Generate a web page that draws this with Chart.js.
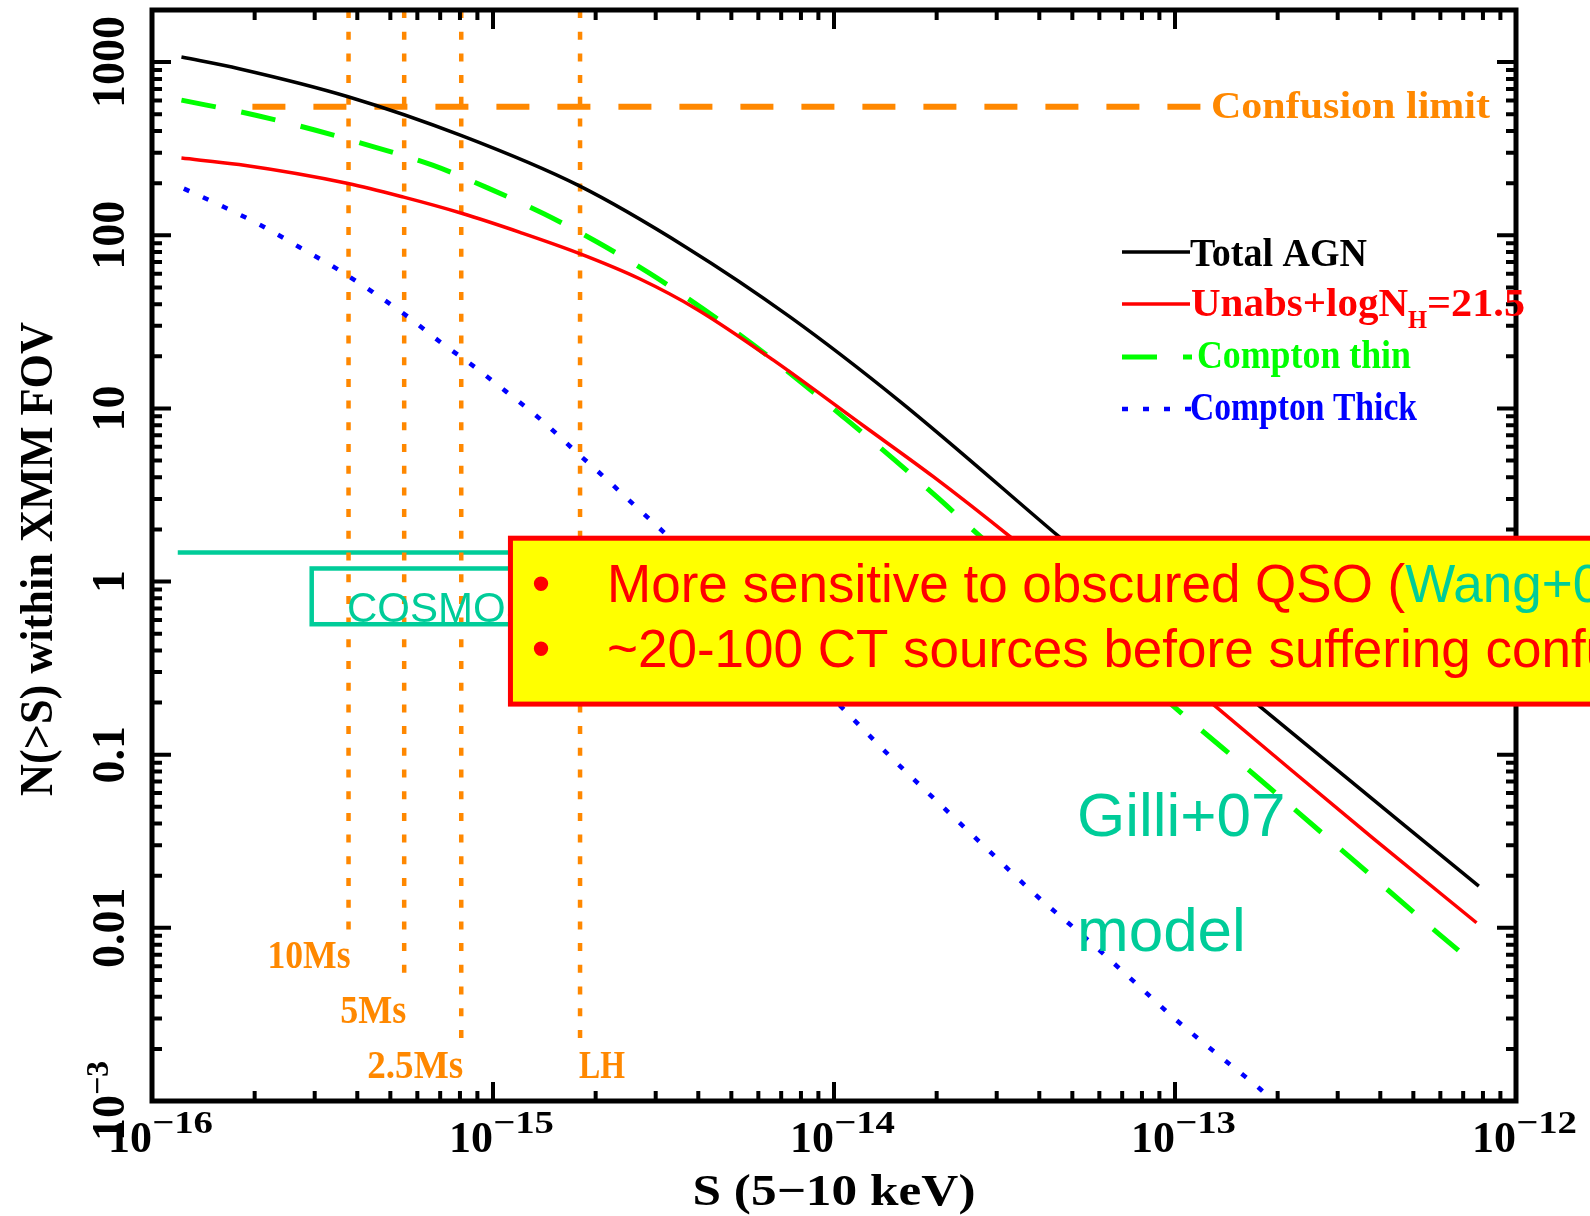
<!DOCTYPE html>
<html>
<head>
<meta charset="utf-8">
<script src="https://cdn.jsdelivr.net/npm/chart.js@4.4.1/dist/chart.umd.min.js"></script>
<style>
  body { margin: 0; background: #fff; }
  #wrap { width: 1590px; height: 1216px; overflow: hidden; }
</style>
</head>
<body>
<div id="wrap"><canvas id="lognChart" width="1590" height="1216"></canvas></div>
<script>
// flux S (5-10 keV, cgs) and N(>S)
var totalS = [1.22e-16, 1.80e-16, 3.76e-16, 8.09e-16, 1.78e-15, 3.69e-15, 7.41e-15, 1.55e-14, 4.58e-14, 1.78e-13, 7.78e-13];
var totalN = [1070, 916, 631, 376, 194, 85.1, 33.9, 11.1, 1.81, 0.189, 0.0174];

var unabsS = [1.22e-16, 1.80e-16, 3.76e-16, 5.47e-16, 8.09e-16, 1.20e-15, 1.78e-15, 2.69e-15, 3.98e-15, 6.64e-15, 1.22e-14, 1.96e-14, 3.29e-14, 6.31e-14, 1.32e-13, 2.14e-13, 3.82e-13, 7.66e-13];
var unabsN = [279, 256, 199, 166, 134, 104, 78.9, 56.1, 37.2, 19.0, 7.94, 4.02, 1.81, 0.627, 0.189, 0.0849, 0.0328, 0.0107];

var thinS = [1.22e-16, 2.03e-16, 3.02e-16, 4.50e-16, 6.65e-16, 9.75e-16, 1.41e-15, 2.02e-15, 2.89e-15, 4.12e-15, 5.73e-15, 7.89e-15, 1.08e-14, 1.49e-14, 2.03e-14, 2.60e-14, 5.01e-14, 1.02e-13, 1.76e-13, 3.29e-13, 5.90e-13, 6.78e-13];
var thinN = [603, 492, 404, 323, 254, 186, 133, 91.4, 60.0, 37.7, 23.7, 14.5, 8.73, 5.13, 3.01, 1.93, 0.621, 0.181, 0.0729, 0.0252, 0.00933, 0.00741];

var thickS = [1.24e-16, 1.62e-16, 2.09e-16, 2.70e-16, 3.44e-16, 4.44e-16, 5.61e-16, 7.00e-16, 8.85e-16, 1.11e-15, 1.39e-15, 1.71e-15, 2.14e-15, 2.63e-15, 3.24e-15, 6.31e-15, 1.11e-14, 1.50e-14, 2.06e-14, 2.82e-14, 3.86e-14, 5.35e-14, 7.40e-14, 1.01e-13, 1.42e-13, 1.77e-13, 2.00e-13];
var thickN = [186, 146, 114, 85.5, 65.0, 47.0, 34.0, 24.2, 17.3, 12.2, 8.53, 5.86, 3.94, 2.70, 1.85, 0.537, 0.169, 0.0929, 0.0511, 0.0284, 0.0158, 0.00908, 0.00511, 0.00293, 0.00168, 0.00118, 0.00095];

// confusion limit and survey depths
var confusionN = 552;
var confusionS = [1.97e-16, 1.23e-13];
var depthNames = ['10Ms', '5Ms', '2.5Ms', 'LH'];
var depthS = [3.77e-16, 5.49e-16, 8.07e-16, 1.80e-15];
var depthLowN = [0.0095, 0.0052, 0.00225, 0.00225];

// COSMOS level
var cosmosN = 1.47;
var cosmosS = [1.19e-16, 3.0e-15];

// axes
var xTickExp = [-16, -15, -14, -13, -12];
var yTickValues = [0.001, 0.01, 0.1, 1, 10, 100, 1000];
var yTickLabels = ['10', '0.01', '0.1', '1', '10', '100', '1000'];

var ORANGE = '#FF8800';
var TEAL = '#00CC99';
var SERIF = '"Liberation Serif", "DejaVu Serif", serif';
var SANS = '"Liberation Sans", Arial, sans-serif';

function pairs(xs, ys) {
    return xs.map(function(x, i) { return {x: x, y: ys[i]}; });
}

function fitText(ctx, txt, x, y, size, family, width, align) {
    ctx.font = size + 'px ' + family;
    var s = width / ctx.measureText(txt).width;
    ctx.save();
    ctx.translate(x, y);
    ctx.scale(s, 1);
    ctx.textAlign = align || 'left';
    ctx.textBaseline = 'alphabetic';
    ctx.fillText(txt, 0, 0);
    ctx.restore();
}

var datasets = [];
datasets.push({ label: 'Total AGN', data: pairs(totalS, totalN), borderColor: '#000', borderWidth: 3.5, order: 1, cubicInterpolationMode: 'monotone' });
datasets.push({ label: 'Unabs', data: pairs(unabsS, unabsN), borderColor: '#FF0000', borderWidth: 3.5, order: 2, cubicInterpolationMode: 'monotone' });
datasets.push({ label: 'Compton thin', data: pairs(thinS, thinN), borderColor: '#00FF00', borderWidth: 5, borderDash: [35, 26], order: 3, cubicInterpolationMode: 'monotone' });
datasets.push({ label: 'Compton Thick', data: pairs(thickS, thickN), borderColor: '#0000FF', borderWidth: 4.5, borderDash: [6, 15], order: 4, cubicInterpolationMode: 'monotone' });
datasets.push({ label: 'Confusion', data: [{x: confusionS[0], y: confusionN}, {x: confusionS[1], y: confusionN}], borderColor: ORANGE, borderWidth: 6, borderDash: [33, 28], order: 5 });
for (var i = 0; i < depthS.length; i++) {
    datasets.push({ label: depthNames[i], data: [{x: depthS[i], y: 2000}, {x: depthS[i], y: depthLowN[i]}], borderColor: ORANGE, borderWidth: 4.5, borderDash: [8, 13.7], order: 6 });
}
datasets.push({ label: 'COSMOS', data: [{x: cosmosS[0], y: cosmosN}, {x: cosmosS[1], y: cosmosN}], borderColor: TEAL, borderWidth: 4.5, order: 7 });

var decorPlugin = {
    id: 'decor',
    afterDatasetsDraw: function(chart) {
        var ctx = chart.ctx;
        var a = chart.chartArea;
        var xs = chart.scales.x, ys = chart.scales.y;
        ctx.save();

        // COSMOS box
        var cx0 = xs.getPixelForValue(2.94e-16), cx1 = xs.getPixelForValue(3e-15);
        var cy0 = ys.getPixelForValue(1.19), cy1 = ys.getPixelForValue(0.567);
        ctx.strokeStyle = TEAL; ctx.lineWidth = 4.5;
        ctx.strokeRect(cx0, cy0, cx1 - cx0, cy1 - cy0);
        ctx.fillStyle = TEAL;
        ctx.font = '42px ' + SANS;
        ctx.textAlign = 'left'; ctx.textBaseline = 'alphabetic';
        ctx.fillText('COSMOS', 347, 622);

        // frame and ticks
        ctx.strokeStyle = '#000';
        ctx.lineWidth = 5;
        ctx.strokeRect(a.left, a.top, a.right - a.left, a.bottom - a.top);
        ctx.lineWidth = 4;
        ctx.beginPath();
        for (var e = -16; e <= -12; e++) {
            for (var m = 1; m <= 9; m++) {
                if (e == -12 && m > 1) break;
                var px = xs.getPixelForValue(m * Math.pow(10, e));
                var len = m == 1 ? 19 : 10;
                ctx.moveTo(px, a.bottom); ctx.lineTo(px, a.bottom - len);
                ctx.moveTo(px, a.top); ctx.lineTo(px, a.top + len);
            }
        }
        for (var e2 = -3; e2 <= 3; e2++) {
            for (var m2 = 1; m2 <= 9; m2++) {
                var v = m2 * Math.pow(10, e2);
                if (v >= ys.max) break;
                var py = ys.getPixelForValue(v);
                var len2 = m2 == 1 ? 19 : 10;
                ctx.moveTo(a.left, py); ctx.lineTo(a.left + len2, py);
                ctx.moveTo(a.right, py); ctx.lineTo(a.right - len2, py);
            }
        }
        ctx.stroke();

        // x tick labels
        ctx.fillStyle = '#000';
        for (var k = 0; k < xTickExp.length; k++) {
            var tx = xs.getPixelForValue(Math.pow(10, xTickExp[k]));
            ctx.font = 'bold 44px ' + SERIF;
            ctx.textAlign = 'right';
            ctx.fillText('10', tx, 1152);
            fitText(ctx, '\u2212' + (-xTickExp[k]), tx, 1133, 'bold 32', SERIF, 61, 'left');
        }

        // y tick labels (rotated)
        for (var j = 0; j < yTickValues.length; j++) {
            var ty = ys.getPixelForValue(yTickValues[j]);
            ctx.save();
            ctx.translate(124, ty);
            ctx.rotate(-Math.PI / 2);
            ctx.font = 'bold 46px ' + SERIF;
            if (j == 0) {
                ctx.textAlign = 'left';
                var w10 = ctx.measureText('10').width;
                ctx.font = 'bold 32px ' + SERIF;
                var wsup = ctx.measureText('\u22123').width;
                var start = -(w10 + wsup) / 2;
                ctx.font = 'bold 46px ' + SERIF;
                ctx.fillText('10', start, 0);
                ctx.font = 'bold 32px ' + SERIF;
                ctx.fillText('\u22123', start + w10, -16);
            } else {
                ctx.textAlign = 'center';
                ctx.fillText(yTickLabels[j], 0, 0);
            }
            ctx.restore();
        }

        // axis titles
        fitText(ctx, 'S (5\u221210 keV)', 834, 1205, 'bold 44', SERIF, 283, 'center');
        ctx.save();
        ctx.translate(52, 559);
        ctx.rotate(-Math.PI / 2);
        fitText(ctx, 'N(>S) within XMM FOV', 0, 0, 'bold 46', SERIF, 474, 'center');
        ctx.restore();

        // depth labels
        ctx.fillStyle = ORANGE;
        var depthBase = [968, 1023, 1078, 1078];
        var depthW = [83, 66, 96, 46];
        for (var d = 0; d < depthNames.length; d++) {
            var dx = xs.getPixelForValue(depthS[d]);
            if (depthNames[d] == 'LH') {
                fitText(ctx, depthNames[d], dx - 1, depthBase[d], 'bold 40', SERIF, depthW[d], 'left');
            } else {
                fitText(ctx, depthNames[d], dx + 2, depthBase[d], 'bold 40', SERIF, depthW[d], 'right');
            }
        }
        fitText(ctx, 'Confusion limit', 1211, 118, 'bold 38', SERIF, 279, 'left');

        // legend
        var lx0 = 1122, lx1 = 1190;
        var rows = [
            { y: 252, color: '#000', dash: [], w: 3.5, x1: lx1 },
            { y: 304, color: '#FF0000', dash: [], w: 3.5, x1: lx1 },
            { y: 357, color: '#00FF00', dash: [35, 26], w: 5, x1: 1192 },
            { y: 409, color: '#0000FF', dash: [6, 15], w: 4.5, x1: 1192 }
        ];
        rows.forEach(function(r) {
            ctx.strokeStyle = r.color; ctx.lineWidth = r.w; ctx.setLineDash(r.dash);
            ctx.beginPath(); ctx.moveTo(lx0, r.y); ctx.lineTo(r.x1, r.y); ctx.stroke();
        });
        ctx.setLineDash([]);
        ctx.fillStyle = '#000';
        fitText(ctx, 'Total AGN', 1190, 266, 'bold 40', SERIF, 177, 'left');
        ctx.fillStyle = '#FF0000';
        fitText(ctx, 'Unabs+logN', 1191, 316, 'bold 40', SERIF, 217, 'left');
        fitText(ctx, 'H', 1408, 328, 'bold 26', SERIF, 19, 'left');
        fitText(ctx, '=21.5', 1427, 316, 'bold 40', SERIF, 98, 'left');
        ctx.fillStyle = '#00FF00';
        fitText(ctx, 'Compton thin', 1197, 368, 'bold 40', SERIF, 214, 'left');
        ctx.fillStyle = '#0000FF';
        fitText(ctx, 'Compton Thick', 1190, 420, 'bold 40', SERIF, 227, 'left');

        // Gilli+07 model
        ctx.fillStyle = TEAL;
        ctx.font = '62px ' + SANS;
        ctx.textAlign = 'left';
        ctx.fillText('Gilli+07', 1077, 836);
        ctx.fillText('model', 1077, 951);

        // yellow note box
        var bx = xs.getPixelForValue(1.125e-15);
        var by0 = ys.getPixelForValue(1.78), by1 = ys.getPixelForValue(0.196);
        ctx.fillStyle = '#FFFF00';
        ctx.fillRect(bx, by0, chart.width + 20 - bx, by1 - by0);
        ctx.strokeStyle = '#FF0000'; ctx.lineWidth = 5;
        ctx.strokeRect(bx, by0, chart.width + 20 - bx, by1 - by0);

        ctx.font = '53px ' + SANS;
        ctx.fillStyle = '#FF0000';
        ctx.textAlign = 'center';
        ctx.fillText('\u2022', 541, 602);
        ctx.fillText('\u2022', 541, 667);
        ctx.textAlign = 'left';
        var t1 = 'More sensitive to obscured QSO (';
        ctx.fillText(t1, 607, 602);
        var w1 = ctx.measureText(t1).width;
        ctx.fillStyle = TEAL;
        ctx.fillText('Wang+07', 607 + w1, 602);
        var w2 = ctx.measureText('Wang+07').width;
        ctx.fillStyle = '#FF0000';
        ctx.fillText(')', 607 + w1 + w2, 602);
        ctx.fillText('~20-100 CT sources before suffering confusion', 607, 667);

        ctx.restore();
    }
};

var ctx = document.getElementById('lognChart').getContext('2d');
var lognChart = new Chart(ctx, {
    type: 'scatter',
    data: { datasets: datasets.map(function(ds) {
        ds.showLine = true;
        ds.pointRadius = 0;
        ds.fill = false;
        return ds;
    }) },
    options: {
        responsive: false,
        animation: false,
        devicePixelRatio: 1,
        layout: { padding: { left: 152, top: 10, right: 74, bottom: 115 } },
        scales: {
            x: { type: 'logarithmic', min: 1e-16, max: 1e-12, display: false },
            y: { type: 'logarithmic', min: 1e-3, max: 2000, display: false }
        },
        plugins: { legend: { display: false }, tooltip: { enabled: false } }
    },
    plugins: [decorPlugin]
});
</script>
</body>
</html>
